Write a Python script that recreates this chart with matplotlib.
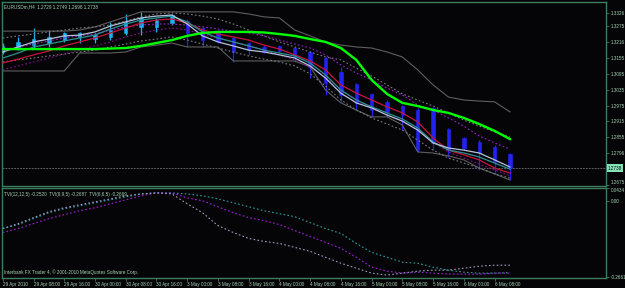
import matplotlib
matplotlib.use("Agg")
import matplotlib.pyplot as plt
import matplotlib.transforms as mtransforms
import numpy as np

# EURUSDm H4 candles, 29 Apr 2010 00:00 .. 6 May 2010 12:00
OPEN = [1.3178, 1.3197, 1.3204, 1.3212, 1.3223, 1.3235, 1.3227, 1.3235, 1.3250, 1.3273,
        1.3273, 1.3288, 1.3295, 1.3269, 1.3254, 1.3231, 1.3212, 1.3197, 1.3201, 1.3193,
        1.3178, 1.3155, 1.3102, 1.3057, 1.3019, 1.2989, 1.2973, 1.2958, 1.2966, 1.2886,
        1.2852, 1.2837, 1.2818, 1.2791]
HIGH = [1.3212, 1.3235, 1.3269, 1.3261, 1.3254, 1.3254, 1.3250, 1.3292, 1.3322, 1.3330,
        1.3307, 1.3322, 1.3303, 1.3273, 1.3261, 1.3235, 1.3216, 1.3204, 1.3204, 1.3197,
        1.3182, 1.3159, 1.3121, 1.3060, 1.3022, 1.2996, 1.2977, 1.2966, 1.2970, 1.2890,
        1.2856, 1.2844, 1.2825, 1.2795]
LOW = [1.3170, 1.3185, 1.3193, 1.3197, 1.3216, 1.3212, 1.3212, 1.3223, 1.3242, 1.3242,
       1.3254, 1.3280, 1.3197, 1.3197, 1.3212, 1.3140, 1.3167, 1.3174, 1.3174, 1.3140,
       1.3079, 1.3015, 1.2989, 1.2958, 1.2932, 1.2932, 1.2882, 1.2799, 1.2806, 1.2780,
       1.2806, 1.2731, 1.2716, 1.2693]
CLOSE = [1.3201, 1.3216, 1.3227, 1.3235, 1.3250, 1.3250, 1.3242, 1.3261, 1.3292, 1.3307,
         1.3299, 1.3318, 1.3250, 1.3223, 1.3220, 1.3178, 1.3185, 1.3178, 1.3182, 1.3159,
         1.3121, 1.3060, 1.3015, 1.2985, 1.2958, 1.2951, 1.2939, 1.2806, 1.2833, 1.2806,
         1.2814, 1.2795, 1.2761, 1.2738]

# overlay indicators on the price pane
MA_GREEN = [1.3189, 1.3189, 1.3189, 1.3189, 1.3189, 1.3189, 1.3189, 1.3191, 1.3193, 1.3201,
            1.3212, 1.3223, 1.3239, 1.3250, 1.3254, 1.3254, 1.3254, 1.3252, 1.3246, 1.3239,
            1.3227, 1.3216, 1.3193, 1.3148, 1.3072, 1.3019, 1.2985, 1.2973, 1.2958, 1.2947,
            1.2928, 1.2905, 1.2879, 1.2848]
MA_RED = [1.3136, 1.3151, 1.3167, 1.3182, 1.3201, 1.3216, 1.3231, 1.3250, 1.3269, 1.3288,
          1.3299, 1.3303, 1.3288, 1.3261, 1.3246, 1.3235, 1.3223, 1.3204, 1.3189, 1.3167,
          1.3144, 1.3110, 1.3053, 1.3022, 1.2996, 1.2970, 1.2947, 1.2913, 1.2852, 1.2806,
          1.2788, 1.2769, 1.2738, 1.2719]
MA_TEAL = [1.3155, 1.3174, 1.3197, 1.3208, 1.3220, 1.3231, 1.3242, 1.3265, 1.3284, 1.3299,
           1.3307, 1.3314, 1.3292, 1.3254, 1.3231, 1.3216, 1.3201, 1.3185, 1.3174, 1.3163,
           1.3136, 1.3091, 1.3034, 1.2996, 1.2970, 1.2947, 1.2924, 1.2890, 1.2837, 1.2806,
           1.2795, 1.2780, 1.2757, 1.2734]
MA_LIGHT = [1.3178, 1.3197, 1.3216, 1.3227, 1.3239, 1.3242, 1.3254, 1.3276, 1.3292, 1.3307,
            1.3314, 1.3318, 1.3284, 1.3239, 1.3216, 1.3201, 1.3185, 1.3178, 1.3167, 1.3155,
            1.3125, 1.3079, 1.3022, 1.2985, 1.2966, 1.2939, 1.2916, 1.2882, 1.2833, 1.2814,
            1.2806, 1.2795, 1.2769, 1.2742]
CHANNEL_HI = [1.3257, 1.3257, 1.3257, 1.3257, 1.3257, 1.3261, 1.3273, 1.3292, 1.3311, 1.3330,
              1.3330, 1.3330, 1.3330, 1.3330, 1.3330, 1.3330, 1.3322, 1.3311, 1.3307, 1.3261,
              1.3239, 1.3216, 1.3204, 1.3197, 1.3193, 1.3178, 1.3159, 1.3110, 1.3053, 1.3007,
              1.2996, 1.2992, 1.2989, 1.2951]
CHANNEL_LO = [1.3106, 1.3106, 1.3106, 1.3106, 1.3106, 1.3174, 1.3174, 1.3174, 1.3178, 1.3197,
              1.3204, 1.3212, 1.3197, 1.3197, 1.3197, 1.3144, 1.3144, 1.3144, 1.3144, 1.3144,
              1.3121, 1.3034, 1.2985, 1.2958, 1.2932, 1.2932, 1.2901, 1.2799, 1.2795, 1.2784,
              1.2769, 1.2738, 1.2716, 1.2693]
BAND_PURPLE_UP = [1.3185, 1.3197, 1.3208, 1.3220, 1.3231, 1.3239, 1.3246, 1.3261, 1.3273, 1.3280,
                  1.3284, 1.3284, 1.3280, 1.3273, 1.3265, 1.3257, 1.3250, 1.3239, 1.3223, 1.3208,
                  1.3193, 1.3167, 1.3129, 1.3098, 1.3072, 1.3041, 1.3015, 1.2977, 1.2958, 1.2928,
                  1.2897, 1.2860, 1.2833, 1.2810]
BAND_PURPLE_DN = [1.3110, 1.3125, 1.3140, 1.3155, 1.3170, 1.3185, 1.3201, 1.3216, 1.3235, 1.3250,
                  1.3261, 1.3269, 1.3261, 1.3246, 1.3231, 1.3216, 1.3201, 1.3185, 1.3167, 1.3148,
                  1.3121, 1.3083, 1.3034, 1.2996, 1.2966, 1.2939, 1.2916, 1.2882, 1.2837, 1.2799,
                  1.2776, 1.2753, 1.2731, 1.2708]
BAND_GRAY_UP = [1.3231, 1.3239, 1.3246, 1.3254, 1.3261, 1.3269, 1.3273, 1.3280, 1.3295, 1.3311,
                1.3322, 1.3326, 1.3322, 1.3314, 1.3303, 1.3284, 1.3261, 1.3239, 1.3216, 1.3197,
                1.3178, 1.3159, 1.3148, 1.3117, 1.3087, 1.3053, 1.3019, 1.2996, 1.2973, 1.2947,
                1.2920, 1.2897, 1.2875, 1.2856]
BAND_GRAY_DN = [1.3140, 1.3148, 1.3155, 1.3163, 1.3170, 1.3178, 1.3185, 1.3197, 1.3208, 1.3220,
                1.3227, 1.3235, 1.3223, 1.3208, 1.3193, 1.3178, 1.3163, 1.3151, 1.3140, 1.3125,
                1.3095, 1.3049, 1.2996, 1.2958, 1.2928, 1.2905, 1.2882, 1.2844, 1.2806, 1.2776,
                1.2757, 1.2738, 1.2716, 1.2700]

# TVI sub-window
TVI_12 = [-0.0972, -0.0833, -0.0625, -0.0417, -0.0278, -0.0174, -0.0069, 0.0035, 0.0139, 0.0243,
          0.0278, 0.0278, 0.0243, 0.0174, 0.0069, -0.0069, -0.0208, -0.0347, -0.0451, -0.0556,
          -0.0764, -0.0972, -0.1146, -0.1493, -0.1806, -0.1979, -0.2153, -0.2188, -0.2326, -0.2431,
          -0.2500, -0.2535, -0.2535, -0.2520]
TVI_9 = [-0.1111, -0.0972, -0.0799, -0.0625, -0.0486, -0.0347, -0.0243, -0.0104, 0.0035, 0.0174,
         0.0278, 0.0278, 0.0104, 0.0000, -0.0208, -0.0417, -0.0590, -0.0694, -0.0833, -0.1042,
         -0.1250, -0.1458, -0.1667, -0.1979, -0.2326, -0.2465, -0.2535, -0.2500, -0.2535, -0.2569,
         -0.2569, -0.2569, -0.2535, -0.2535]
TVI_6 = [-0.0972, -0.0799, -0.0590, -0.0382, -0.0243, -0.0139, -0.0035, 0.0069, 0.0174, 0.0243,
         0.0278, 0.0243, -0.0104, -0.0417, -0.0868, -0.1111, -0.1319, -0.1424, -0.1493, -0.1632,
         -0.1771, -0.1979, -0.2188, -0.2361, -0.2535, -0.2604, -0.2535, -0.2465, -0.2431, -0.2431,
         -0.2361, -0.2292, -0.2257, -0.2257]

TIME_LABELS = ["29 Apr 2010", "29 Apr 08:00", "29 Apr 16:00", "30 Apr 00:00", "30 Apr 08:00",
               "30 Apr 16:00", "3 May 00:00", "3 May 08:00", "3 May 16:00", "4 May 00:00",
               "4 May 08:00", "4 May 16:00", "5 May 00:00", "5 May 08:00", "5 May 16:00",
               "6 May 00:00", "6 May 08:00"]
PRICE_TICKS = [1.3326, 1.3275, 1.3216, 1.3155, 1.3095, 1.3035, 1.2975, 1.2915, 1.2855, 1.2796, 1.2675]
TVI_TICKS = [0.0434, 0.0, -0.2661]
TVI_TICK_LABELS = ["0.0434", "0.00", "-0.2661"]
LAST_PRICE = 1.2738

BG = "#050508"
FRAME = "#3D7C5E"
TEXT = "#A6D4B4"
FS = 3.3

plt.rcParams["font.family"] = ["Liberation Sans", "DejaVu Sans"]


def style_axes(ax):
    ax.set_facecolor(BG)
    for sp in ax.spines.values():
        sp.set_color(FRAME)
        sp.set_linewidth(1.0)
    ax.yaxis.tick_right()
    ax.tick_params(axis="y", colors=FRAME, labelcolor=TEXT, length=2, width=0.6,
                   pad=1.5, labelsize=FS, direction="out")


def draw_price(ax):
    x = np.arange(len(OPEN))
    o, h, l, c = map(np.array, (OPEN, HIGH, LOW, CLOSE))
    colors = np.where(c >= o, "#1CB4F2", "#2222F5")
    ax.vlines(x, l, h, colors=colors, lw=0.9, zorder=2)
    ax.bar(x, np.abs(c - o), bottom=np.minimum(o, c), width=0.22, color=colors,
           edgecolor=colors, lw=0.4, zorder=2)

    ax.plot(x, CHANNEL_HI, color="#5E5E5E", lw=0.8, zorder=3)
    ax.plot(x, CHANNEL_LO, color="#5E5E5E", lw=0.8, zorder=3)
    ax.plot(x, BAND_GRAY_UP, color="#7A7A7A", lw=0.8, ls=(0, (1.5, 2)), zorder=3)
    ax.plot(x, BAND_GRAY_DN, color="#7A7A7A", lw=0.8, ls=(0, (1.5, 2)), zorder=3)
    ax.plot(x, BAND_PURPLE_UP, color="#9A1FD0", lw=0.8, ls=(0, (1.5, 2)), zorder=3)
    ax.plot(x, BAND_PURPLE_DN, color="#8B0A8B", lw=0.8, ls=(0, (1.5, 2)), zorder=3)
    ax.plot(x, MA_RED, color="#C8143C", lw=0.9, zorder=4)
    ax.plot(x, MA_TEAL, color="#2E9090", lw=0.9, zorder=4)
    ax.plot(x, MA_LIGHT, color="#B4C2DC", lw=0.9, zorder=4)
    ax.plot(x, MA_GREEN, color="#00FF00", lw=1.7, zorder=5)

    ax.axhline(LAST_PRICE, color="#5C5C5C", lw=0.7, ls=(0, (2, 1)), zorder=1)

    ax.set_xlim(-0.05, 39.25)
    ax.set_ylim(1.26700, 1.33674)
    ax.set_xticks([])
    ax.set_yticks(PRICE_TICKS)
    ax.set_yticklabels([f"{v:.4f}" for v in PRICE_TICKS])
    # bottom label sits on the pane border, nudge it up like the terminal does
    ax.get_yticklabels()[-1].set_verticalalignment("bottom")

    trans = mtransforms.blended_transform_factory(ax.transAxes, ax.transData)
    ax.text(1.003, LAST_PRICE, f"{LAST_PRICE:.4f}", transform=trans, ha="left", va="center",
            fontsize=FS, color="#050508",
            bbox=dict(boxstyle="square,pad=0.25", fc="#86E2B8", ec="none"))
    ax.text(0.004, 0.985, "EURUSDm,H4  1.2729 1.2749 1.2698 1.2738", transform=ax.transAxes,
            ha="left", va="top", fontsize=FS, color=TEXT)


def draw_tvi(ax):
    x = np.arange(len(TVI_12))
    ax.plot(x, TVI_12, color="#2E9A9A", lw=0.8, ls=(0, (1.5, 2)))
    ax.plot(x, TVI_9, color="#A020D8", lw=0.8, ls=(0, (1.5, 2)))
    ax.plot(x, TVI_6, color="#9A9AC0", lw=0.8, ls=(0, (1.5, 2)))

    ax.set_xlim(-0.05, 39.25)
    ax.set_ylim(-0.2706, 0.0450)
    ax.set_yticks(TVI_TICKS)
    ax.set_yticklabels(TVI_TICK_LABELS)
    ax.get_yticklabels()[0].set_verticalalignment("top")
    ax.set_xticks(np.arange(0, 2 * len(TIME_LABELS), 2))
    ax.set_xticklabels(TIME_LABELS, ha="left")
    ax.tick_params(axis="x", colors=FRAME, labelcolor=TEXT, length=2, width=0.6,
                   pad=1, labelsize=FS, direction="out")

    ax.text(0.004, 0.96, "TVI(12,12,5) -0.2520  TVI(9,9,5) -0.2687  TVI(6,6,5) -0.2669",
            transform=ax.transAxes, ha="left", va="top", fontsize=FS, color=TEXT)
    ax.text(0.004, 0.03, "Interbank FX Trader 4, \u00a9 2001-2010 MetaQuotes Software Corp.",
            transform=ax.transAxes, ha="left", va="bottom", fontsize=FS, color=TEXT)


def main():
    fig = plt.figure(figsize=(6.25, 2.88), dpi=100, facecolor=BG)
    ax_price = fig.add_axes([2 / 625, 1 - 186 / 288, 604 / 625, 184 / 288])
    ax_tvi = fig.add_axes([2 / 625, 1 - 278 / 288, 604 / 625, 90 / 288])
    style_axes(ax_price)
    style_axes(ax_tvi)
    draw_price(ax_price)
    draw_tvi(ax_tvi)
    fig.savefig("out.png", dpi=100, facecolor=BG)


if __name__ == "__main__":
    main()
